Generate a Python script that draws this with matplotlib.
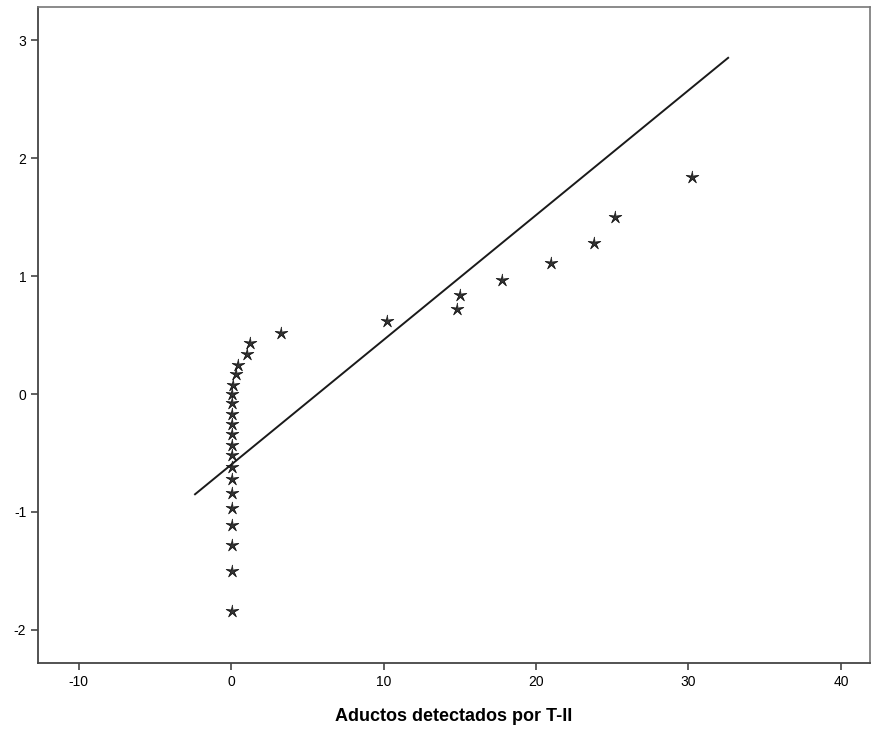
import matplotlib
matplotlib.use("Agg")
import matplotlib.pyplot as plt
import numpy as np

observed = [0.05, 0.05, 0.05, 0.05, 0.05, 0.05, 0.05, 0.05, 0.05, 0.05,
            0.05, 0.05, 0.05, 0.08, 0.08, 0.1, 0.3, 0.45, 1.05, 1.25,
            3.3, 10.2, 14.8, 15.0, 17.8, 21.0, 23.8, 25.2, 30.2]
expected = [-1.84, -1.50, -1.28, -1.11, -0.97, -0.84, -0.72, -0.62, -0.52, -0.43,
            -0.34, -0.25, -0.17, -0.08, 0.0, 0.08, 0.17, 0.25, 0.34, 0.43,
            0.52, 0.62, 0.72, 0.84, 0.97, 1.11, 1.28, 1.50, 1.84]

# reference line y = (x - mean) / sd
line_mean = 5.67
line_sd = 9.45
line_x = [-2.36, 32.6]

x_ticks = [-10, 0, 10, 20, 30, 40]
y_ticks = [-2, -1, 0, 1, 2, 3]

plt.rcParams['font.family'] = ['Liberation Sans Narrow', 'Liberation Sans', 'DejaVu Sans']
plt.rcParams['axes.unicode_minus'] = False

# thin-armed star like the SPSS marker
ang = np.pi / 2 + np.arange(10) * np.pi / 5
rad = np.where(np.arange(10) % 2 == 0, 1.0, 0.28)
star = list(zip(rad * np.cos(ang), rad * np.sin(ang)))

fig = plt.figure(figsize=(8.73, 7.37), dpi=100)
ax = fig.add_axes([0.0435, 0.1004, 0.953, 0.89])

lx = np.array(line_x)
ax.plot(lx, (lx - line_mean) / line_sd, color='#1a1a1a', lw=1.4, zorder=2)
ax.scatter(observed, expected, marker=star, s=90, facecolor='#333333',
           edgecolor='#111111', linewidths=0.6, zorder=3)

ax.set_xlim(-12.66, 41.9)
ax.set_ylim(-2.28, 3.28)
ax.set_xticks(x_ticks)
ax.set_yticks(y_ticks)
ax.tick_params(direction='out', length=5, width=1.2, color='#444444',
               labelsize=10, top=False, right=False)

for side in ['left', 'bottom']:
    ax.spines[side].set_color('#444444')
    ax.spines[side].set_linewidth(1.3)
for side in ['top', 'right']:
    ax.spines[side].set_color('#777777')
    ax.spines[side].set_linewidth(1.2)

ax.set_xlabel("Aductos detectados por T-II", fontsize=13, fontweight='bold', labelpad=14)

fig.savefig("out.png", dpi=100)
